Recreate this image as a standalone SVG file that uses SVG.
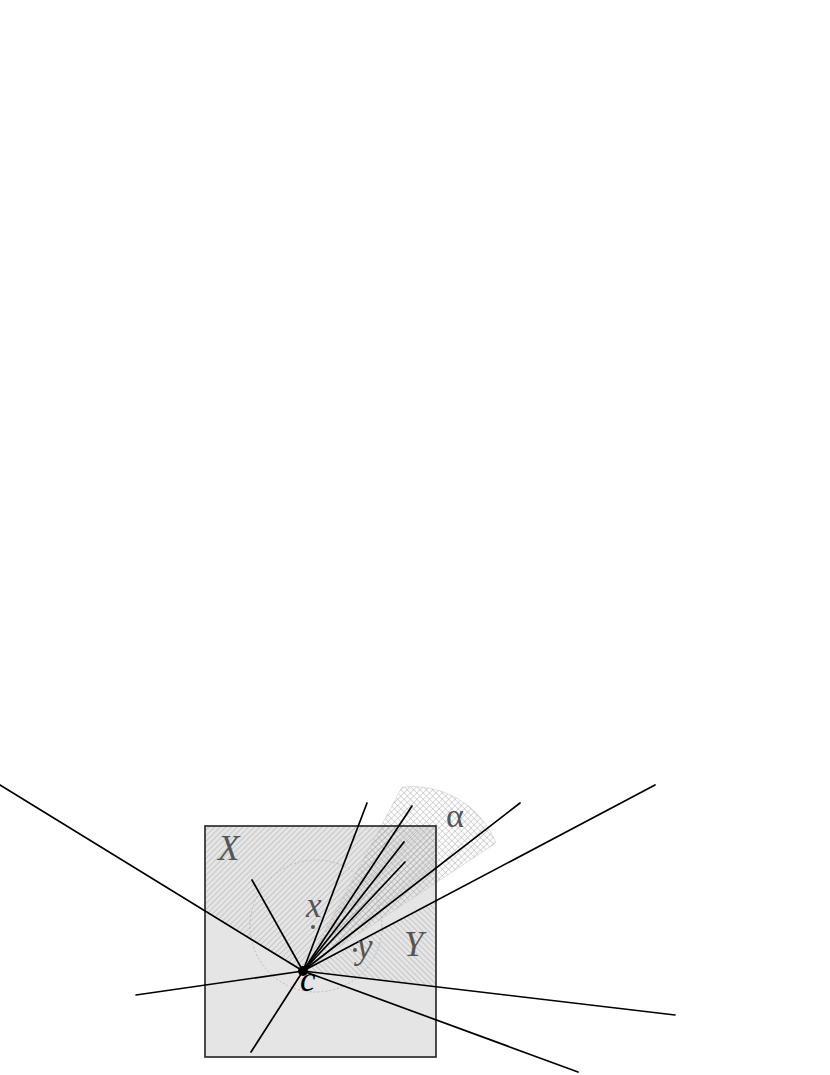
<svg xmlns="http://www.w3.org/2000/svg" width="830" height="1075" viewBox="0 0 830 1075">
<style>
.ray{stroke:#000;stroke-width:1.7;fill:none;stroke-linecap:round}
.lbl{font-family:"Liberation Serif","DejaVu Serif",serif;font-style:italic;font-size:35px;fill:#555}
</style>
<defs>
<pattern id="hf" patternUnits="userSpaceOnUse" width="4" height="4" patternTransform="rotate(45)">
<line x1="0" y1="0" x2="0" y2="4" stroke="#a8a8a8" stroke-width="1"/>
</pattern>
<pattern id="hb" patternUnits="userSpaceOnUse" width="4" height="4" patternTransform="rotate(-45)">
<line x1="0" y1="0" x2="0" y2="4" stroke="#a8a8a8" stroke-width="1"/>
</pattern>
<pattern id="hx" patternUnits="userSpaceOnUse" width="4.5" height="4.5" patternTransform="rotate(45)">
<line x1="0" y1="0" x2="0" y2="4.5" stroke="#a0a0a0" stroke-width="0.8"/>
<line x1="0" y1="0" x2="4.5" y2="0" stroke="#a0a0a0" stroke-width="0.8"/>
</pattern>
<clipPath id="sq"><rect x="205" y="826" width="231" height="231"/></clipPath>
</defs>
<g id="square">
<rect x="205" y="826" width="231" height="231" fill="#e5e5e5"/>
</g>
<g id="regionX" clip-path="url(#sq)">
<polygon points="303,971 0,785 0,780 550,780" fill="url(#hf)"/>
</g>
<g id="regionY" clip-path="url(#sq)">
<polygon points="303,971 655,785 700,785 700,1020 675,1015" fill="url(#hb)"/>
</g>
<g id="sector">
<path d="M303,971 L402,787 A90,90 0 0 1 496,843 Z" fill="url(#hx)" stroke="#ccc" stroke-width="0.6"/>
</g>
<g id="circle">
<circle cx="316" cy="926" r="66" fill="none" stroke="#bbb" stroke-width="1" stroke-dasharray="2,2"/>
</g>
<g id="square-border">
<rect x="205" y="826" width="231" height="231" fill="none" stroke="#222" stroke-width="1.6"/>
</g>
<g id="connectors">
<line class="ray" x1="303" y1="971" x2="0" y2="785"/>
<line class="ray" x1="303" y1="971" x2="136" y2="995"/>
<line class="ray" x1="303" y1="971" x2="251" y2="1052"/>
<line class="ray" x1="303" y1="971" x2="578" y2="1072"/>
<line class="ray" x1="303" y1="971" x2="675" y2="1015"/>
<line class="ray" x1="303" y1="971" x2="655" y2="785"/>
<line class="ray" x1="303" y1="971" x2="520" y2="803"/>
<line class="ray" x1="303" y1="971" x2="405" y2="862"/>
<line class="ray" x1="303" y1="971" x2="404" y2="842"/>
<line class="ray" x1="303" y1="971" x2="412" y2="806"/>
<line class="ray" x1="303" y1="971" x2="367" y2="803"/>
<line class="ray" x1="303" y1="971" x2="252" y2="880"/>
</g>
<g id="points">
<circle id="c" cx="303" cy="971" r="5" fill="#000"/>
<circle cx="313" cy="927" r="2" fill="#555"/>
<circle cx="355" cy="950" r="2" fill="#555"/>
</g>
<g id="labels">
<text class="lbl" x="218" y="860">X</text>
<text class="lbl" x="404" y="956">Y</text>
<text class="lbl" x="306" y="917">x</text>
<text class="lbl" x="357" y="958">y</text>
<text class="lbl" x="300" y="991" style="fill:#000">c</text>
<text x="446" y="827" style="font-family:'Liberation Serif','DejaVu Serif',serif;font-size:34px;fill:#555">α</text>
</g>
</svg>
